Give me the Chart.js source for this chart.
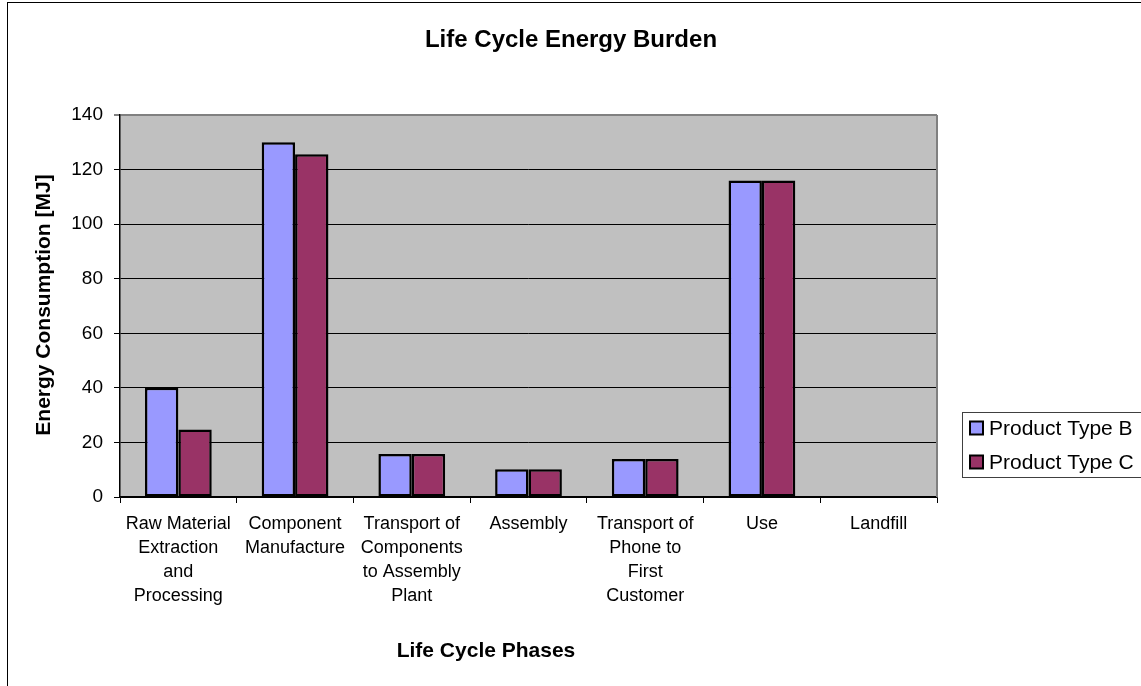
<!DOCTYPE html>
<html>
<head>
<meta charset="utf-8">
<title>Life Cycle Energy Burden</title>
<script src="https://cdn.jsdelivr.net/npm/chart.js@4.4.0/dist/chart.umd.min.js"></script>
<style>
    html, body { margin: 0; padding: 0; background: #fff; overflow: hidden; }
    #wrap { width: 1141px; height: 686px; }
</style>
</head>
<body>
<div id="wrap"><canvas id="energyChart" width="1141" height="686"></canvas></div>
<script>
/* 데이터 */
const phases = [
    ['Raw Material', 'Extraction', 'and', 'Processing'],
    ['Component', 'Manufacture'],
    ['Transport of', 'Components', 'to Assembly', 'Plant'],
    ['Assembly'],
    ['Transport of', 'Phone to', 'First', 'Customer'],
    ['Use'],
    ['Landfill']
];
const productB = [40, 130, 15.8, 10.2, 13.9, 116, 0];
const productC = [24.7, 125.6, 15.8, 10.2, 13.9, 116, 0];
const seriesNames = ['Product Type B', 'Product Type C'];
const yMin = 0, yMax = 140, yStep = 20;

const chartTitle = 'Life Cycle Energy Burden';
const xTitle = 'Life Cycle Phases';
const yTitle = 'Energy Consumption [MJ]';

const FONT = '"Liberation Sans", Arial, sans-serif';

/* 배경, 제목, 범례 직접 그리기 */
const decoPlugin = {
    id: 'deco',
    beforeDraw(chart) {
        const ctx = chart.ctx;
        const a = chart.chartArea;
        ctx.save();
        ctx.fillStyle = '#fff';
        ctx.fillRect(0, 0, chart.width, chart.height);
        // 바깥 테두리
        ctx.strokeStyle = '#000';
        ctx.lineWidth = 1;
        ctx.strokeRect(7.5, 2.5, chart.width + 20, chart.height + 20);
        // plot area
        ctx.fillStyle = '#C0C0C0';
        ctx.fillRect(a.left, a.top, a.right - a.left, a.bottom - a.top);
        ctx.restore();
    },
    afterDraw(chart) {
        const ctx = chart.ctx;
        const a = chart.chartArea;
        ctx.save();
        // 오른쪽 테두리
        ctx.strokeStyle = '#808080';
        ctx.lineWidth = 2;
        ctx.beginPath();
        ctx.moveTo(a.right, a.top);
        ctx.lineTo(a.right, a.bottom);
        ctx.stroke();

        ctx.fillStyle = '#000';
        ctx.textAlign = 'center';
        ctx.textBaseline = 'alphabetic';
        ctx.font = 'bold 24px ' + FONT;
        ctx.fillText(chartTitle, 571, 47);

        ctx.font = 'bold 21px ' + FONT;
        ctx.fillText(xTitle, 486, 657);

        ctx.save();
        ctx.translate(50, 305);
        ctx.rotate(-Math.PI / 2);
        ctx.fillText(yTitle, 0, 0);
        ctx.restore();

        // 범례
        const lx = 962, ly = 412;
        ctx.strokeStyle = '#404040';
        ctx.lineWidth = 1;
        ctx.strokeRect(lx + 0.5, ly + 0.5, 200, 65);
        ctx.font = '21px ' + FONT;
        ctx.textAlign = 'left';
        ctx.textBaseline = 'middle';
        chart.data.datasets.forEach((ds, i) => {
            const cy = 428 + i * 34;
            ctx.fillStyle = ds.backgroundColor;
            ctx.fillRect(970, cy - 6.5, 13, 13);
            ctx.strokeStyle = '#000';
            ctx.lineWidth = 2;
            ctx.strokeRect(970, cy - 6.5, 13, 13);
            ctx.fillStyle = '#000';
            ctx.fillText(ds.label, 989, cy + 1);
        });
        ctx.restore();
    }
};

const ctx = document.getElementById('energyChart');
new Chart(ctx, {
    type: 'bar',
    data: {
        labels: phases,
        datasets: [
            {
                label: seriesNames[0],
                data: productB,
                backgroundColor: '#9999FF',
                borderColor: '#000',
                borderWidth: 2.5,
                borderSkipped: false
            },
            {
                label: seriesNames[1],
                data: productC,
                backgroundColor: '#993366',
                borderColor: '#000',
                borderWidth: 2.5,
                borderSkipped: false
            }
        ]
    },
    options: {
        responsive: false,
        animation: false,
        devicePixelRatio: 1,
        categoryPercentage: 0.572,
        barPercentage: 1.0,
        layout: { padding: { left: 0, top: 115, right: 204, bottom: 0 } },
        plugins: {
            legend: { display: false },
            title: { display: false },
            tooltip: { enabled: false }
        },
        scales: {
            x: {
                grid: {
                    offset: true,
                    drawOnChartArea: false,
                    drawTicks: true,
                    tickLength: 6,
                    color: '#000'
                },
                border: { display: true, color: '#000', width: 1.5 },
                ticks: {
                    autoSkip: false,
                    maxRotation: 0,
                    minRotation: 0,
                    padding: 9,
                    color: '#000',
                    font: { family: FONT, size: 18, lineHeight: 1.34 }
                },
                afterFit(scale) { scale.height = 189; }
            },
            y: {
                min: yMin,
                max: yMax,
                ticks: {
                    stepSize: yStep,
                    padding: 11,
                    color: '#000',
                    font: { family: FONT, size: 19 }
                },
                grid: {
                    color: (c) => (c.tick && c.tick.value === yMax) ? '#808080' : '#000',
                    lineWidth: (c) => (c.tick && c.tick.value === yMax) ? 2 : 1,
                    drawTicks: true,
                    tickLength: 6
                },
                border: { display: true, color: '#000', width: 1.5 },
                afterFit(scale) { scale.width = 120; }
            }
        }
    },
    plugins: [decoPlugin]
});
</script>
</body>
</html>
